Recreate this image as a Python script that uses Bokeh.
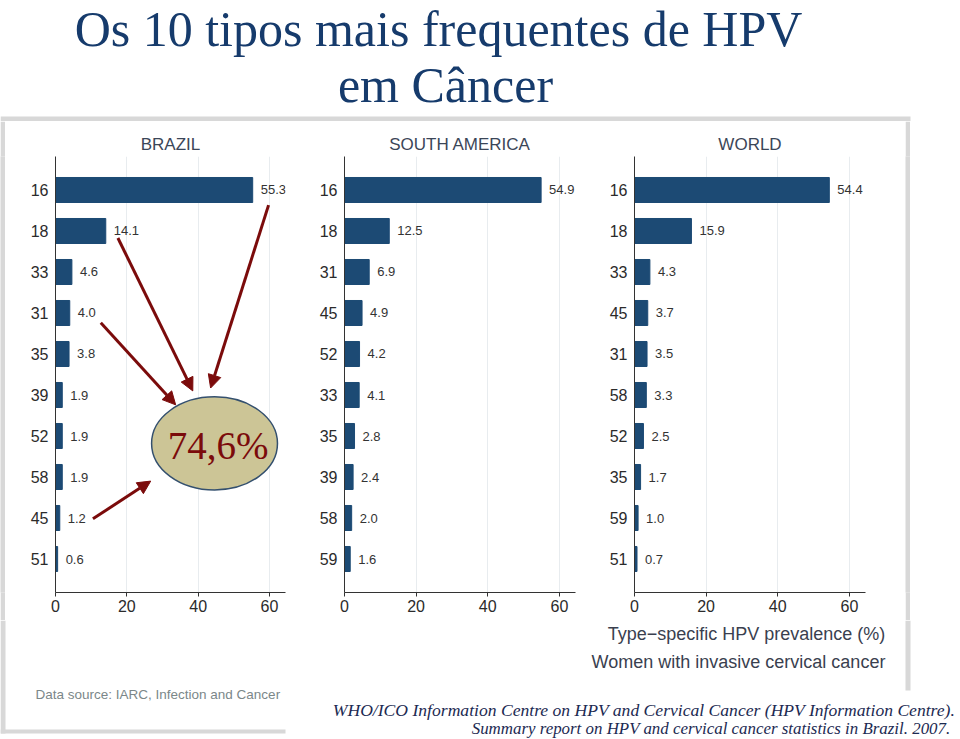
from bokeh.plotting import figure
from bokeh.models import Range1d, FactorRange, FixedTicker, Arrow, NormalHead, ColumnDataSource
from bokeh.layouts import column, row
from bokeh.core.properties import value
from bokeh.embed import file_html
from bokeh.resources import INLINE

# ---------------- data ----------------
title_lines = ["Os 10 tipos mais frequentes de HPV", "em Câncer"]
panel_titles = ["BRAZIL", "SOUTH AMERICA", "WORLD"]

types_brazil = ["16", "18", "33", "31", "35", "39", "52", "58", "45", "51"]
prev_brazil = [55.3, 14.1, 4.6, 4.0, 3.8, 1.9, 1.9, 1.9, 1.2, 0.6]

types_south_america = ["16", "18", "31", "45", "52", "33", "35", "39", "58", "59"]
prev_south_america = [54.9, 12.5, 6.9, 4.9, 4.2, 4.1, 2.8, 2.4, 2.0, 1.6]

types_world = ["16", "18", "33", "45", "31", "58", "52", "35", "59", "51"]
prev_world = [54.4, 15.9, 4.3, 3.7, 3.5, 3.3, 2.5, 1.7, 1.0, 0.7]

x_ticks = [0, 20, 40, 60]
highlight_types = ["16", "18", "31", "45"]   # arrows point from these to the ellipse

x_label_lines = ["Type\u2212specific HPV prevalence (%)", "Women with invasive cervical cancer"]
data_source_text = "Data source: IARC, Infection and Cancer"
caption_line_1 = "WHO/ICO Information Centre on HPV and Cervical Cancer (HPV Information Centre)."
caption_line_2 = "Summary report on HPV and cervical cancer statistics in Brazil. 2007."

# ---------------- styles ----------------
GRAY = "#d8d8d8"
BAR = "#1c4a74"
NAVY = "#163b6c"
DARKRED = "#7b0b0b"
W = 960
TOP_H = 121
ROW_H = 499
BOT_H = 119


def blank(width, height, bg="white"):
    f = figure(width=width, height=height, x_range=Range1d(0, width), y_range=Range1d(height, 0),
               x_axis_type=None, y_axis_type=None, min_border=0, toolbar_location=None,
               output_backend="svg", outline_line_color=None,
               background_fill_color=bg, border_fill_color=bg)
    return f


def make_panel(title, types, values, left_border):
    src = ColumnDataSource(dict(type=types, value=values, label=[f"{v:.1f}" for v in values]))
    p = figure(width=290, height=ROW_H, title=title,
               x_range=Range1d(0, 64.5),
               y_range=FactorRange(factors=types[::-1], range_padding=0.317, range_padding_units="absolute"),
               min_border_left=left_border, min_border_right=10, min_border_top=35, min_border_bottom=28,
               toolbar_location=None, output_backend="svg", outline_line_color=None,
               background_fill_color="white", border_fill_color="white")
    p.title.align = "center"
    p.title.text_font = "Liberation Sans"
    p.title.text_font_size = "17px"
    p.title.text_font_style = "normal"
    p.title.text_color = "#3b4658"
    p.title.standoff = 5

    p.hbar(y="type", left=0, right="value", height=0.61, source=src,
           fill_color=BAR, line_color=BAR)
    p.text(x="value", y="type", text="label", source=src, x_offset=8,
           text_baseline="middle", text_align="left", text_font_size="13px",
           text_color="#333333", text_font=value("Liberation Sans"))

    ticker = FixedTicker(ticks=x_ticks)
    p.xaxis.ticker = ticker
    p.xgrid.ticker = ticker
    p.xgrid.grid_line_color = "#e8ecef"
    p.ygrid.grid_line_color = None

    for ax in (p.xaxis[0], p.yaxis[0]):
        ax.axis_line_color = "#333333"
        ax.major_label_text_font = "Liberation Sans"
        ax.major_label_text_font_size = "16px"
        ax.major_label_text_color = "#2b2b2b"
        ax.minor_tick_line_color = None
        ax.major_tick_in = 0
    p.xaxis.major_tick_out = 4
    p.xaxis.major_tick_line_color = "#333333"
    p.xaxis.major_label_standoff = 3
    p.yaxis.major_tick_line_color = None
    p.yaxis.major_tick_out = 0
    p.yaxis.major_label_standoff = 7
    return p


brazil = make_panel(panel_titles[0], types_brazil, prev_brazil, 50)
south_america = make_panel(panel_titles[1], types_south_america, prev_south_america, 49)
world = make_panel(panel_titles[2], types_world, prev_world, 49)

# ---- highlighted share in Brazil: ellipse with arrows ----
share = sum(prev_brazil[types_brazil.index(t)] for t in highlight_types)
share_text = f"{share:.1f}".replace(".", ",") + "%"

brazil.ellipse(x=[44.6], y=[3.32], width=35.3, height=2.27,
               fill_color="#ccc596", line_color="#34506e", line_width=1.5)
brazil.text(x=[45.6], y=[3.26], text=[share_text], text_align="center", text_baseline="middle",
            text_font=value("Liberation Serif"), text_font_size="39px", text_color=DARKRED)

arrow_starts = [(59.75, 9.13), (17.5, 8.33), (12.7, 6.26), (10.5, 1.48)]
arrow_ends = [(43.5, 4.67), (38.5, 4.60), (33.7, 4.26), (26.7, 2.40)]
for (xs, ys), (xe, ye) in zip(arrow_starts, arrow_ends):
    brazil.add_layout(Arrow(x_start=xs, y_start=ys, x_end=xe, y_end=ye,
                            line_color=DARKRED, line_width=3,
                            end=NormalHead(size=13, fill_color=DARKRED, line_color=DARKRED)))

# ---------------- frame pieces ----------------
top = blank(W, TOP_H)
top.text(x=[438, 445], y=[28, 84], text=title_lines, text_align="center", text_baseline="middle",
         text_font=value("Liberation Serif"), text_font_size="50px", text_color=NAVY)
top.quad(left=[0], right=[910], top=[116], bottom=[121], fill_color=GRAY, line_color=None)

left_strip = blank(5, ROW_H, bg=GRAY)
right_gap = blank(30, ROW_H)
right_strip = blank(5, ROW_H, bg=GRAY)
right_rest = blank(50, ROW_H)

bottom = blank(W, BOT_H)
bottom.quad(left=[0], right=[5], top=[0], bottom=[113], fill_color=GRAY, line_color=None)
bottom.quad(left=[0], right=[285], top=[109], bottom=[113], fill_color=GRAY, line_color=None)
bottom.quad(left=[905], right=[910], top=[0], bottom=[70], fill_color=GRAY, line_color=None)
bottom.text(x=[746, 738], y=[13, 41], text=x_label_lines, text_align="center", text_baseline="middle",
            text_font=value("Liberation Sans"), text_font_size="18px", text_color="#3a3f4f")
bottom.text(x=[35], y=[74], text=[data_source_text], text_align="left", text_baseline="middle",
            text_font=value("Liberation Sans"), text_font_size="13.5px", text_color="#7b8789")
bottom.text(x=[955], y=[89], text=[caption_line_1], text_align="right", text_baseline="middle",
            text_font=value("Liberation Serif"), text_font_style="italic", text_font_size="17.6px",
            text_color="#1c2a52")
bottom.text(x=[950], y=[108], text=[caption_line_2], text_align="right", text_baseline="middle",
            text_font=value("Liberation Serif"), text_font_style="italic", text_font_size="16.9px",
            text_color="#1c2a52")

layout = column(top,
                row(left_strip, brazil, south_america, world, right_gap, right_strip, right_rest),
                bottom)

open("out.html", "w").write(file_html(layout, INLINE, "HPV"))
